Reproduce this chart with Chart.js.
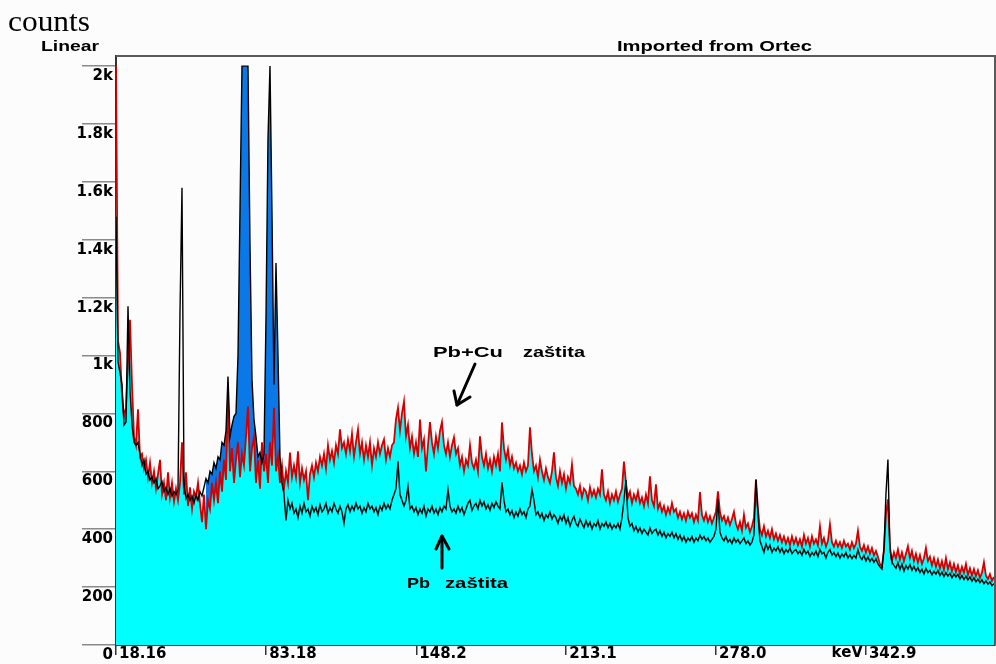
<!DOCTYPE html>
<html>
<head>
<meta charset="utf-8">
<title>Spectrum</title>
<script src="https://cdn.jsdelivr.net/npm/chart.js@4.4.0/dist/chart.umd.min.js"></script>
<style>
  body { margin: 0; background: #fcfcfc; }
  canvas { display: block; }
</style>
</head>
<body>
<canvas id="spectrum" width="996" height="664"></canvas>
<script>
// channel energy grid (keV)
const keVStart = 18.16;
const channelWidth = 0.866;
const keVEnd = 398.8;

// region of interest marked on the spectrum (keV)
const roiKeV = [57.1, 90.0];

// counts, Pb + Cu shielding
const pbCuCounts = [
  2000, 1050, 1010, 860, 790, 820, 980, 1124, 900, 720,
  690, 814, 650, 660, 610, 640, 580, 630, 560, 600,
  540, 590, 640, 520, 560, 500, 597, 510, 560, 495,
  540, 500, 560, 700, 520, 597, 480, 545, 470, 530,
  510, 560, 490, 424, 520, 400, 500, 470, 560, 500,
  560, 490, 600, 530, 640, 570, 859, 600, 680, 560,
  640, 700, 580, 660, 620, 720, 824, 600, 680, 717,
  560, 640, 540, 700, 600, 660, 560, 700, 620, 820,
  600, 650, 560, 620, 540, 600, 560, 665, 580, 620,
  580, 669, 560, 610, 570, 600, 500, 590, 620, 580,
  630, 600, 650, 620, 660, 610, 690, 640, 670, 630,
  690, 660, 745, 680, 700, 660, 710, 670, 730, 650,
  700, 745, 660, 700, 640, 690, 650, 700, 620, 680,
  650, 700, 660, 690, 710, 640, 680, 650, 690, 700,
  780, 820, 740, 800, 841, 720, 760, 680, 720, 660,
  700, 650, 779, 680, 710, 600, 690, 770, 700, 660,
  720, 680, 740, 770, 690, 660, 700, 650, 690, 717,
  660, 680, 620, 650, 600, 640, 620, 690, 630, 610,
  640, 600, 721, 650, 620, 660, 610, 640, 600, 650,
  620, 660, 600, 769, 680, 640, 676, 620, 650, 610,
  630, 600, 620, 590, 630, 600, 620, 752, 660, 600,
  620, 580, 640, 600, 570, 610, 580, 560, 600, 666,
  580, 550, 600, 560, 590, 540, 580, 560, 624, 550,
  540, 520, 550, 510, 540, 530, 500, 545, 515, 535,
  510, 540, 520, 607, 520, 500, 530, 490, 520, 500,
  530, 495, 520, 540, 634, 560, 510, 530, 490, 520,
  500, 530, 490, 510, 480, 520, 490, 583, 500, 480,
  555, 470, 490, 460, 480, 450, 475, 455, 490, 460,
  470, 440, 460, 435, 455, 430, 460, 440, 455, 425,
  450, 430, 528, 450, 430, 455, 425, 445, 420, 440,
  460, 531, 460, 430, 445, 420, 440, 415, 435, 460,
  420, 400, 425, 395, 450, 405, 420, 390, 410, 440,
  572, 470, 400, 380, 410, 375, 395, 370, 400, 365,
  385, 360, 380, 355, 375, 350, 370, 345, 375, 350,
  370, 345, 365, 340, 380, 350, 370, 340, 375, 350,
  365, 345, 410, 350, 370, 340, 360, 417, 355, 340,
  360, 340, 355, 335, 360, 340, 350, 330, 355, 335,
  350, 395, 340, 325, 345, 320, 340, 315, 335, 310,
  325, 305, 280, 270, 330, 450, 503, 340, 290, 320,
  300, 330, 295, 320, 290, 315, 341, 300, 325, 290,
  315, 285, 310, 280, 300, 335, 290, 305, 275, 300,
  270, 295, 265, 290, 260, 300, 262, 285, 255, 280,
  252, 275, 245, 270, 250, 280, 242, 265, 240, 262,
  238, 258, 232, 250, 286, 240, 228, 245, 222, 235
];

// counts, Pb shielding only
const pbCounts = [
  1480, 980, 940, 900, 760, 770, 1170, 880, 760, 700,
  690, 700, 660, 620, 640, 590, 600, 570, 580, 560,
  575, 540, 550, 565, 530, 545, 520, 540, 515, 530,
  520, 535, 1150, 1580, 560, 505, 520, 500, 515, 490,
  520, 500, 530, 515, 545, 575, 560, 600, 590, 630,
  610, 650, 640, 700, 690, 740, 928, 720, 760, 790,
  800, 1000, 1500, 2000, 2000, 2000, 2000, 1380, 917, 780,
  720, 650, 665, 630, 660, 1130, 1750, 2000, 1490, 900,
  1320, 1000, 650, 560, 520, 430, 500, 470, 490, 455,
  470, 440, 480, 455, 490, 460, 470, 445, 480, 460,
  475, 450, 485, 460, 470, 490, 455, 475, 460, 490,
  470, 455, 480, 460, 420, 470, 485, 460, 480, 465,
  490, 470, 480, 455, 475, 460, 490, 470, 480, 460,
  475, 450, 480, 465, 490, 470, 485, 470, 500, 520,
  540, 635, 520, 500, 480, 500, 548, 470, 480, 460,
  475, 450, 470, 455, 480, 445, 470, 460, 480, 455,
  470, 450, 475, 460, 480, 470, 538, 480, 460, 470,
  455, 480, 460, 475, 450, 470, 490, 500, 465, 480,
  490, 470, 500, 480, 495, 470, 485, 465, 490, 475,
  495, 480, 470, 562, 500, 460, 470, 450, 465, 440,
  460, 445, 470, 450, 460, 440, 470, 480, 538, 500,
  450, 460, 440, 455, 430, 450, 440, 460, 435, 450,
  440, 420, 445, 430, 450, 420, 440, 410, 430, 445,
  420, 410, 435, 420, 405, 430, 410, 425, 400, 420,
  410, 430, 400, 420, 410, 425, 405, 420, 400, 415,
  405, 420, 400, 440, 500, 570, 440, 410, 420, 395,
  410, 390, 405, 385, 400, 390, 380, 405, 385, 395,
  400, 380, 395, 375, 390, 370, 385, 375, 390, 370,
  385, 365, 380, 360, 375, 355, 370, 360, 375, 355,
  370, 360, 380, 365, 375, 360, 370, 355, 365, 375,
  400, 503, 390, 370, 360, 375, 355, 365, 350, 370,
  355, 365, 350, 360, 370, 350, 360, 345, 355, 380,
  572, 450, 360, 340, 320, 350, 330, 345, 320, 335,
  325, 340, 320, 335, 315, 330, 320, 335, 315, 325,
  330, 315, 325, 310, 330, 315, 325, 305, 320, 310,
  325, 305, 330, 315, 320, 300, 320, 330, 310, 320,
  305, 318, 300, 315, 305, 320, 300, 312, 298, 310,
  300, 330, 305, 295, 310, 290, 305, 288, 300, 285,
  298, 280, 270, 262, 330, 520, 641, 330, 286, 275,
  265, 285, 260, 280, 255, 275, 262, 278, 258, 272,
  255, 268, 250, 262, 245, 265, 250, 258, 242, 255,
  245, 258, 240, 252, 236, 250, 238, 248, 232, 245,
  235, 244, 228, 240, 226, 238, 224, 235, 220, 232,
  218, 228, 215, 225, 212, 222, 210, 218, 205, 212
];

const xTickValues = [18.16, 83.18, 148.2, 213.1, 278.0, 342.9];
const xTickLabels = ['18.16', '83.18', '148.2', '213.1', '278.0', '342.9'];
const yTickValues = [0, 200, 400, 600, 800, 1000, 1200, 1400, 1600, 1800, 2000];
const yTickLabels = ['0', '200', '400', '600', '800', '1k', '1.2k', '1.4k', '1.6k', '1.8k', '2k'];

const energyOf = (i) => keVStart + i * channelWidth;
const pbCuPoints = pbCuCounts.map((c, i) => ({ x: energyOf(i), y: c }));
const pbPoints = pbCounts.map((c, i) => ({ x: energyOf(i), y: c }));
const roiPoints = pbCounts.map((c, i) => {
  const e = energyOf(i);
  return { x: e, y: e >= roiKeV[0] && e <= roiKeV[1] ? c : null };
});

function stretchText(ctx, text, x, y, width, font) {
  ctx.font = font;
  const w = ctx.measureText(text).width;
  ctx.save();
  ctx.translate(x, y);
  ctx.scale(width / w, 1);
  ctx.fillText(text, 0, 0);
  ctx.restore();
}

function arrow(ctx, pts) {
  ctx.beginPath();
  ctx.moveTo(pts[0][0], pts[0][1]);
  for (let k = 1; k < pts.length; k++) ctx.lineTo(pts[k][0], pts[k][1]);
  ctx.stroke();
}

const decorations = {
  id: 'decorations',
  afterDraw(chart) {
    const ctx = chart.ctx;
    const area = chart.chartArea;
    const xs = chart.scales.x;
    ctx.save();

    // frame along top and right
    ctx.strokeStyle = '#5a5a5a';
    ctx.lineWidth = 2;
    ctx.beginPath();
    ctx.moveTo(area.left, area.top);
    ctx.lineTo(area.right, area.top);
    ctx.lineTo(area.right, area.bottom);
    ctx.stroke();

    ctx.fillStyle = '#000';
    ctx.textBaseline = 'alphabetic';
    ctx.textAlign = 'left';
    stretchText(ctx, 'counts', 8, 31, 82, '30px "Liberation Serif"');
    stretchText(ctx, 'Linear', 41, 51, 58, 'bold 14px "Liberation Sans"');
    stretchText(ctx, 'Imported from Ortec', 617, 51, 195, 'bold 14px "Liberation Sans"');

    // unit next to the last energy tick
    ctx.font = 'bold 15px "DejaVu Sans"';
    ctx.textAlign = 'right';
    ctx.textBaseline = 'top';
    ctx.fillText('keV', xs.getPixelForValue(342.9) - 3, 646);

    // annotations
    ctx.textAlign = 'left';
    ctx.textBaseline = 'alphabetic';
    stretchText(ctx, 'Pb+Cu', 433, 357, 70, 'bold 14px "Liberation Sans"');
    stretchText(ctx, 'zaštita', 523, 357, 62, 'bold 14px "Liberation Sans"');
    stretchText(ctx, 'Pb', 407, 588, 23, 'bold 14px "Liberation Sans"');
    stretchText(ctx, 'zaštita', 445, 588, 63, 'bold 14px "Liberation Sans"');

    ctx.strokeStyle = '#000';
    ctx.lineWidth = 3;
    ctx.lineCap = 'round';
    ctx.lineJoin = 'round';
    arrow(ctx, [[475, 364], [457, 405]]);
    arrow(ctx, [[454, 391], [457, 405], [470, 397]]);
    arrow(ctx, [[442, 568], [442, 536]]);
    arrow(ctx, [[436, 549], [442, 536], [449, 549]]);

    ctx.restore();
  }
};

new Chart(document.getElementById('spectrum'), {
  type: 'line',
  data: {
    datasets: [
      {
        label: 'Pb',
        data: pbPoints,
        borderColor: '#000',
        borderWidth: 1.4,
        pointRadius: 0,
        fill: false,
        order: 0
      },
      {
        label: 'Pb+Cu',
        data: pbCuPoints,
        borderColor: '#d20000',
        borderWidth: 1.8,
        backgroundColor: '#00ffff',
        pointRadius: 0,
        fill: 'origin',
        order: 2
      },
      {
        label: 'ROI',
        data: roiPoints,
        borderColor: 'rgba(0,0,0,0)',
        borderWidth: 0,
        pointRadius: 0,
        spanGaps: false,
        fill: { target: 1, above: '#0a78e6', below: 'rgba(0,0,0,0)' },
        order: 1
      }
    ]
  },
  options: {
    responsive: false,
    animation: false,
    layout: { padding: { top: 56, right: 1, left: 0, bottom: 0 } },
    plugins: {
      legend: { display: false },
      tooltip: { enabled: false },
      filler: { drawTime: 'beforeDatasetsDraw' }
    },
    scales: {
      x: {
        type: 'linear',
        min: keVStart,
        max: keVEnd,
        afterFit: (scale) => { scale.height = 19; },
        afterBuildTicks: (scale) => { scale.ticks = xTickValues.map(v => ({ value: v })); },
        border: { color: '#333', width: 2 },
        grid: { drawOnChartArea: false, tickLength: 10, color: '#333', lineWidth: 1.5 },
        ticks: {
          autoSkip: false,
          maxRotation: 0,
          align: 'start',
          labelOffset: 3,
          padding: -10,
          color: '#000',
          font: { family: 'DejaVu Sans', size: 15, weight: 'bold' },
          callback: (v, i) => xTickLabels[i]
        }
      },
      y: {
        min: 0,
        max: 2035,
        afterFit: (scale) => { scale.width = 116; },
        afterBuildTicks: (scale) => { scale.ticks = yTickValues.map(v => ({ value: v })); },
        border: { color: '#333', width: 2 },
        grid: { drawOnChartArea: false, tickLength: 34, color: '#8a8a8a', lineWidth: 1.5 },
        ticks: {
          autoSkip: false,
          labelOffset: 10,
          padding: -31,
          color: '#000',
          font: { family: 'DejaVu Sans', size: 15, weight: 'bold' },
          callback: (v, i) => yTickLabels[i]
        }
      }
    }
  },
  plugins: [decorations]
});
</script>
</body>
</html>
